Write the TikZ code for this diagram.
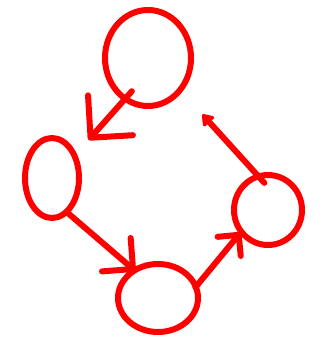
\documentclass[tikz,border=0pt]{standalone}
\usetikzlibrary{shapes.geometric,arrows.meta}
\begin{document}
\begin{tikzpicture}[x=1pt,y=-1pt,
  pen/.style={draw=red, line width=6pt, line cap=round, line join=round},
  st/.style={pen, ellipse, inner sep=0pt},
  arr/.style={pen, -{Straight Barb[length=#1, width=2*#1, round]}},
  farr/.style={pen, -{Triangle[length=12pt, width=16pt, round]}}]
\useasboundingbox (0,0) rectangle (324,343);
\node[st, minimum width=86pt, minimum height=96pt] (t) at (148,58) {};
\node[st, minimum width=54pt, minimum height=80pt] (l) at (52,178) {};
\node[st, minimum width=80pt, minimum height=68pt] (b) at (158,298) {};
\node[st, minimum width=68pt, minimum height=70pt] (r) at (268,210) {};
\draw[arr=30pt, shorten <=-13pt, shorten >=18pt] (t.240) -- (l.45);
\draw[arr=22pt, shorten <=-2pt, shorten >=-4pt] (l.295) -- (b.131);
\draw[arr=15pt, shorten <=-4pt, shorten >=-2pt] (b.19) -- (r.220);
\draw[farr, shorten <=-12pt, shorten >=30pt] (r.108) -- (t.315);
\end{tikzpicture}
\end{document}
